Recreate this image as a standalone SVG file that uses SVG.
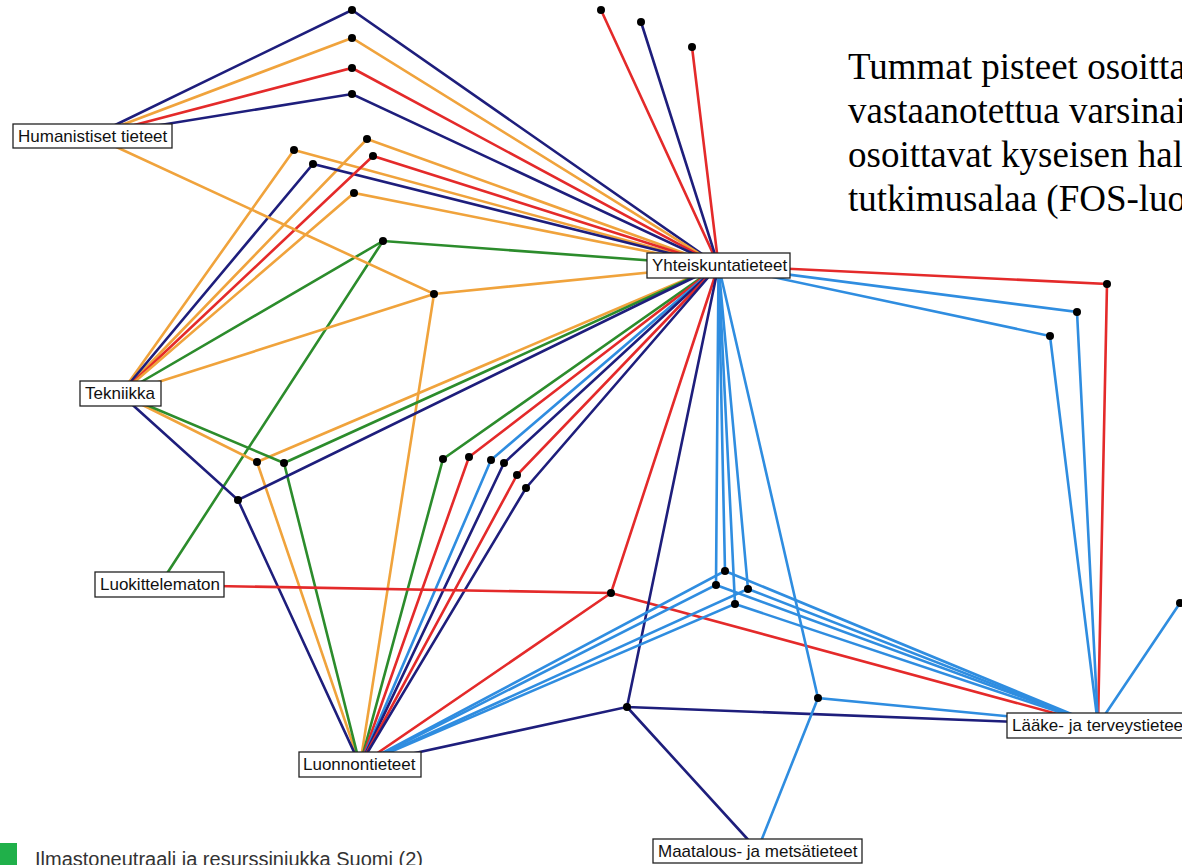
<svg xmlns="http://www.w3.org/2000/svg" width="1182" height="865" viewBox="0 0 1182 865">
<style>
  .c path { fill: none; stroke-width: 2.6; stroke-linecap: round; }
  .nv { stroke: #1e1e7c; }
  .or { stroke: #f0a33c; }
  .rd { stroke: #e42a2a; }
  .gr { stroke: #2c8c2c; }
  .bl { stroke: #2f8de0; }
  .dot { fill: #000; }
  .box { fill: #fff; stroke: #222; stroke-width: 1.3; }
  .lbl { font-family: "Liberation Sans", Arial, sans-serif; font-size: 17px; fill: #111; }
  .note { font-family: "Liberation Serif", "Times New Roman", serif; font-size: 37px; fill: #000; }
  .leg { font-family: "Liberation Sans", Arial, sans-serif; font-size: 20px; fill: #333; }
</style>
<rect width="1182" height="865" fill="#fff"/>

<g id="note">
  <text class="note" x="848" y="79">Tummat pisteet osoitta</text>
  <text class="note" x="848" y="123">vastaanotettua varsinai</text>
  <text class="note" x="848" y="167">osoittavat kyseisen hal</text>
  <text class="note" x="848" y="211">tutkimusalaa (FOS-luo</text>
</g>

<g id="connectors" class="c">
  <!-- d1 -->
  <path class="nv" d="M92.5 136 L352 10 L718.5 265.5"/>
  <path class="or" d="M92.5 136 L352 38 L718.5 265.5"/>
  <path class="rd" d="M92.5 136 L352 68 L718.5 265.5"/>
  <path class="nv" d="M92.5 136 L352 94 L718.5 265.5"/>
  <path class="rd" d="M601 10 L718.5 265.5"/>
  <path class="nv" d="M641 22 L718.5 265.5"/>
  <path class="rd" d="M692 47 L718.5 265.5"/>
  <path class="or" d="M120.5 394 L294 150 L718.5 265.5"/>
  <path class="or" d="M120.5 394 L367 139 L718.5 265.5"/>
  <path class="nv" d="M120.5 394 L313 164 L718.5 265.5"/>
  <path class="rd" d="M120.5 394 L373 156 L718.5 265.5"/>
  <path class="or" d="M120.5 394 L354 193 L718.5 265.5"/>
  <path class="gr" d="M120.5 394 L383 241 L718.5 265.5 M383 241 L159.5 585"/>
  <path class="or" d="M92.5 136 L434 294 L718.5 265.5 M434 294 L120.5 394 M434 294 L360 765"/>
  <path class="or" d="M120.5 394 L257 462 L718.5 265.5 M257 462 L360 765"/>
  <path class="gr" d="M120.5 394 L284 463 L718.5 265.5 M284 463 L360 765"/>
  <path class="nv" d="M120.5 394 L238 500 L718.5 265.5 M238 500 L360 765"/>
  <path class="gr" d="M360 765 L443 459 L718.5 265.5"/>
  <path class="rd" d="M360 765 L469 457 L718.5 265.5"/>
  <path class="bl" d="M360 765 L491 460 L718.5 265.5"/>
  <path class="nv" d="M360 765 L504 463 L718.5 265.5"/>
  <path class="rd" d="M360 765 L517 475 L718.5 265.5"/>
  <path class="nv" d="M360 765 L526 488 L718.5 265.5"/>
  <path class="rd" d="M159.5 585 L611 593 L718.5 265.5 M611 593 L360 765 M611 593 L1098 725"/>
  <path class="nv" d="M360 765 L627 707 L718.5 265.5 M627 707 L757.5 850 M627 707 L1098 725"/>
  <path class="bl" d="M360 765 L725 571 L718.5 265.5 M725 571 L1098 725"/>
  <path class="bl" d="M360 765 L716 585 L718.5 265.5 M716 585 L1098 725"/>
  <path class="bl" d="M360 765 L748 589 L718.5 265.5 M748 589 L1098 725"/>
  <path class="bl" d="M360 765 L735 604 L718.5 265.5 M735 604 L1098 725"/>
  <path class="bl" d="M718.5 265.5 L818 698 L1098 725 M818 698 L757.5 850"/>
  <path class="rd" d="M718.5 265.5 L1107 284 L1098 725"/>
  <path class="bl" d="M718.5 265.5 L1077 312 L1098 725"/>
  <path class="bl" d="M718.5 265.5 L1050 336 L1098 725"/>
  <path class="bl" d="M1180 603 L1098 725"/>
</g>

<g id="points">
  <circle class="dot" cx="352" cy="10" r="4"/>
  <circle class="dot" cx="352" cy="38" r="4"/>
  <circle class="dot" cx="352" cy="68" r="4"/>
  <circle class="dot" cx="352" cy="94" r="4"/>
  <circle class="dot" cx="601" cy="10" r="4"/>
  <circle class="dot" cx="641" cy="22" r="4"/>
  <circle class="dot" cx="692" cy="47" r="4"/>
  <circle class="dot" cx="294" cy="150" r="4"/>
  <circle class="dot" cx="367" cy="139" r="4"/>
  <circle class="dot" cx="313" cy="164" r="4"/>
  <circle class="dot" cx="373" cy="156" r="4"/>
  <circle class="dot" cx="354" cy="193" r="4"/>
  <circle class="dot" cx="383" cy="241" r="4"/>
  <circle class="dot" cx="434" cy="294" r="4"/>
  <circle class="dot" cx="257" cy="462" r="4"/>
  <circle class="dot" cx="284" cy="463" r="4"/>
  <circle class="dot" cx="238" cy="500" r="4"/>
  <circle class="dot" cx="443" cy="459" r="4"/>
  <circle class="dot" cx="469" cy="457" r="4"/>
  <circle class="dot" cx="491" cy="460" r="4"/>
  <circle class="dot" cx="504" cy="463" r="4"/>
  <circle class="dot" cx="517" cy="475" r="4"/>
  <circle class="dot" cx="526" cy="488" r="4"/>
  <circle class="dot" cx="611" cy="593" r="4"/>
  <circle class="dot" cx="627" cy="707" r="4"/>
  <circle class="dot" cx="725" cy="571" r="4"/>
  <circle class="dot" cx="716" cy="585" r="4"/>
  <circle class="dot" cx="748" cy="589" r="4"/>
  <circle class="dot" cx="735" cy="604" r="4"/>
  <circle class="dot" cx="818" cy="698" r="4"/>
  <circle class="dot" cx="1107" cy="284" r="4"/>
  <circle class="dot" cx="1077" cy="312" r="4"/>
  <circle class="dot" cx="1050" cy="336" r="4"/>
  <circle class="dot" cx="1180" cy="603" r="4"/>
</g>

<g id="node-humanistiset">
  <rect class="box" x="13" y="124" width="159" height="24"/>
  <text class="lbl" x="18" y="142">Humanistiset tieteet</text>
</g>
<g id="node-yhteiskunta">
  <rect class="box" x="647" y="253" width="143" height="25"/>
  <text class="lbl" x="652" y="271">Yhteiskuntatieteet</text>
</g>
<g id="node-tekniikka">
  <rect class="box" x="80" y="381" width="81" height="25"/>
  <text class="lbl" x="85" y="399">Tekniikka</text>
</g>
<g id="node-luokittelematon">
  <rect class="box" x="95" y="572" width="129" height="25"/>
  <text class="lbl" x="100" y="590">Luokittelematon</text>
</g>
<g id="node-luonnontieteet">
  <rect class="box" x="299" y="752" width="122" height="25"/>
  <text class="lbl" x="303" y="770">Luonnontieteet</text>
</g>
<g id="node-maatalous">
  <rect class="box" x="653" y="839" width="209" height="24"/>
  <text class="lbl" x="658" y="857">Maatalous- ja metsätieteet</text>
</g>
<g id="node-laake">
  <rect class="box" x="1007" y="713" width="190" height="25"/>
  <text class="lbl" x="1012" y="731">Lääke- ja terveystieteet</text>
</g>

<g id="legend">
  <rect x="0" y="843" width="17" height="24" fill="#20b04a"/>
  <text class="leg" x="35" y="866">Ilmastoneutraali ja resurssiniukka Suomi (2)</text>
</g>
</svg>
